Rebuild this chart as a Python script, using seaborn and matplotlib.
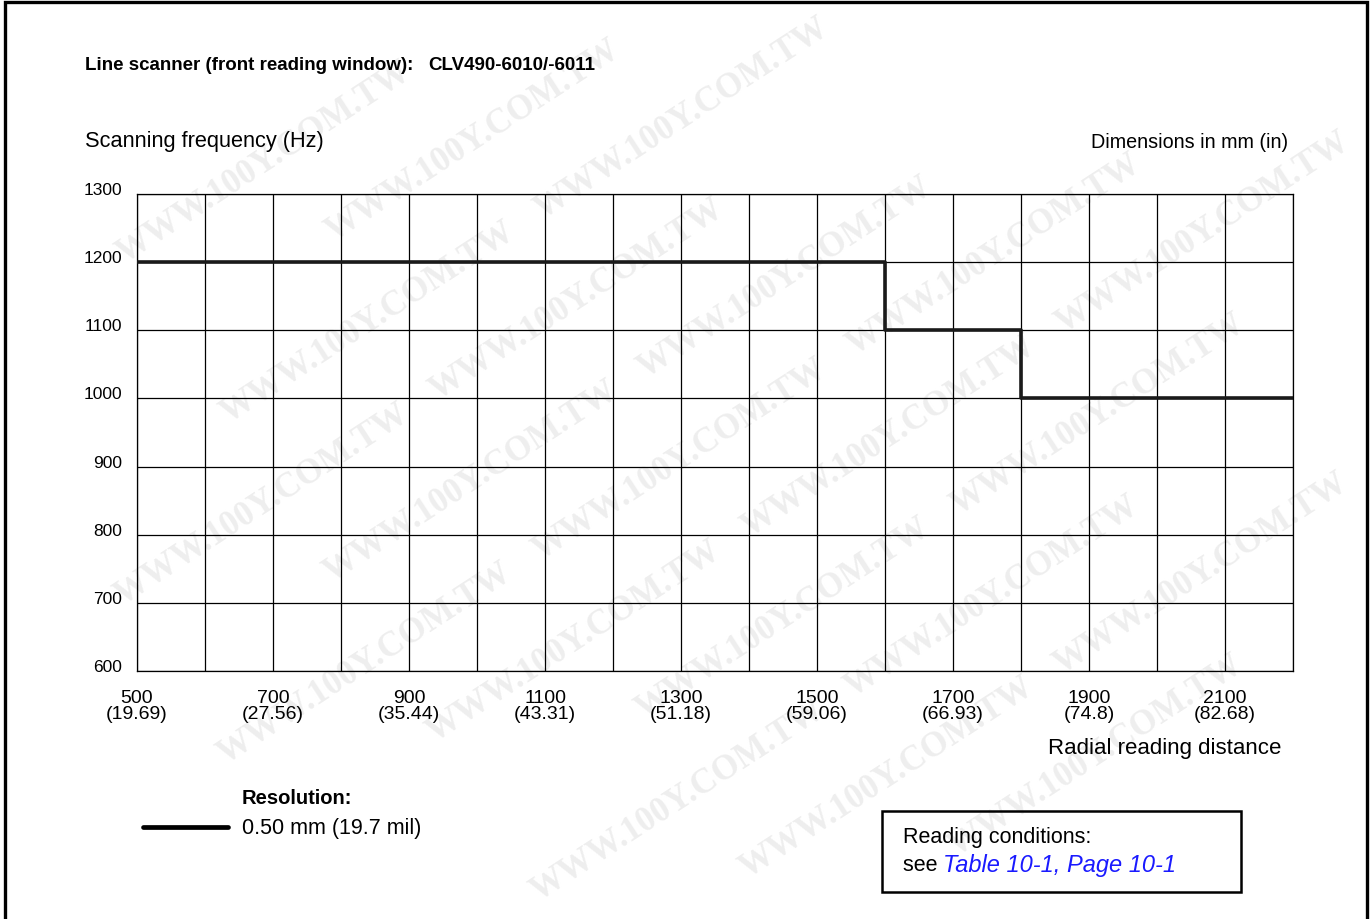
import numpy as np
import pandas as pd
import seaborn as sns
import matplotlib
matplotlib.use("Agg")
import matplotlib.pyplot as plt
from matplotlib.lines import Line2D
from matplotlib.patches import Rectangle

# Scanning frequency vs. radial reading distance (0.50 mm resolution)
distance_mm = [500, 1600, 1800, 2200]
frequency_hz = [1200, 1100, 1000, 1000]

x_ticks = [500, 700, 900, 1100, 1300, 1500, 1700, 1900, 2100]
x_tick_inches = ["19.69", "27.56", "35.44", "43.31", "51.18", "59.06", "66.93", "74.8", "82.68"]
y_ticks = [600, 700, 800, 900, 1000, 1100, 1200, 1300]

sns.set_theme(style="white")
plt.rcParams["font.family"] = ["Liberation Sans", "DejaVu Sans"]
plt.rcParams.update({"text.color": "black", "xtick.color": "black",
                     "ytick.color": "black", "axes.labelcolor": "black"})

W, H = 1370, 920
fig = plt.figure(figsize=(W / 100, H / 100), dpi=100)


def fx(x):
    return x / W


def fy(y):
    return 1 - y / H


ax = fig.add_axes([fx(137), fy(672), fx(1293) - fx(137), fy(195) - fy(672)])
ax.set_zorder(2)
ax.patch.set_alpha(0)

df = pd.DataFrame({"distance": distance_mm, "frequency": frequency_hz})
sns.lineplot(data=df, x="distance", y="frequency", ax=ax, color="#1a1a1a",
             linewidth=2.6, drawstyle="steps-post", estimator=None, sort=False,
             zorder=5)

ax.set_xlim(500, 2200)
ax.set_ylim(600, 1300)
ax.set_xticks(x_ticks)
ax.set_xticks(np.arange(500, 2201, 100), minor=True)
ax.set_yticks(y_ticks)
ax.set_xticklabels([f"{d}\n({i})" for d, i in zip(x_ticks, x_tick_inches)],
                   fontsize=14, linespacing=0.95)
ax.set_yticklabels([str(v) for v in y_ticks], fontsize=12.5, va="baseline")
ax.tick_params(axis="both", which="both", length=0)
ax.tick_params(axis="x", pad=13)
ax.tick_params(axis="y", pad=10.5)
ax.grid(True, which="both", color="black", linewidth=0.9)
for s in ax.spines.values():
    s.set_color("black")
    s.set_linewidth(0.9)
ax.set_xlabel("")
ax.set_ylabel("")

# Watermark pattern in the background
wm_ax = fig.add_axes([0, 0, 1, 1])
wm_ax.set_zorder(0)
wm_ax.axis("off")
wm_ax.set_xlim(0, W)
wm_ax.set_ylim(H, 0)
ang = np.deg2rad(33)
step_u, step_v = 375, 95
u = np.array([np.cos(ang), -np.sin(ang)])
v = np.array([np.sin(ang), np.cos(ang)])
half_len, half_h = 178, 16
hx = half_len * np.cos(ang) + half_h * np.sin(ang)
hy = half_len * np.sin(ang) + half_h * np.cos(ang)
for j in range(-16, 18):
    for i in range(-14, 16):
        c = np.array([680, 460]) + (i + 0.5 * (j % 2)) * step_u * u + j * step_v * v
        if hx + 8 <= c[0] <= W - hx - 8 and hy + 8 <= c[1] <= H - hy - 8:
            wm_ax.text(c[0], c[1], "WWW.100Y.COM.TW", fontsize=25,
                       fontweight="bold", family=["Liberation Serif", "DejaVu Serif"],
                       color="#eeeeee", rotation=33, ha="center", va="center",
                       rotation_mode="anchor")

# Overlay for texts, frame and legend
ov = fig.add_axes([0, 0, 1, 1])
ov.set_zorder(3)
ov.patch.set_alpha(0)
ov.axis("off")
ov.set_xlim(0, W)
ov.set_ylim(H, 0)

# page frame (open at the bottom)
ov.plot([5, 5, 1367, 1367], [H, 3, 3, H], color="black", linewidth=2.4,
        solid_joinstyle="miter")

ov.text(85, 65, "Line scanner (front reading window):", fontsize=13.5,
        fontweight="bold", va="center", ha="left")
ov.text(428, 65, "CLV490-6010/-6011", fontsize=13.5, fontweight="bold",
        va="center", ha="left")
ov.text(85, 142, "Scanning frequency (Hz)", fontsize=15.7, va="center", ha="left")
ov.text(1288, 142, "Dimensions in mm (in)", fontsize=14.2, va="center", ha="right")
ov.text(1281, 749, "Radial reading distance", fontsize=16, va="center", ha="right")

# legend
ov.add_line(Line2D([143, 228], [828, 828], color="black", linewidth=3.4))
ov.text(242, 799, "Resolution:", fontsize=14.5, fontweight="bold", va="center",
        ha="left")
ov.text(242, 829, "0.50 mm (19.7 mil)", fontsize=15.5, va="center", ha="left")

# reading conditions box
ov.add_patch(Rectangle((882, 812), 359, 81, fill=False, edgecolor="black",
                       linewidth=1.8))
ov.text(903, 838, "Reading conditions:", fontsize=15.5, va="center", ha="left")
t = ov.text(903, 866, "see ", fontsize=15.5, va="center", ha="left")
fig.canvas.draw()
bb = t.get_window_extent().transformed(ov.transData.inverted())
ov.text(bb.x1, 866, "Table 10-1, Page 10-1", fontsize=17, va="center",
        ha="left", style="italic", color="#1a1aff")

fig.savefig("out.png", dpi=100, facecolor="white")
